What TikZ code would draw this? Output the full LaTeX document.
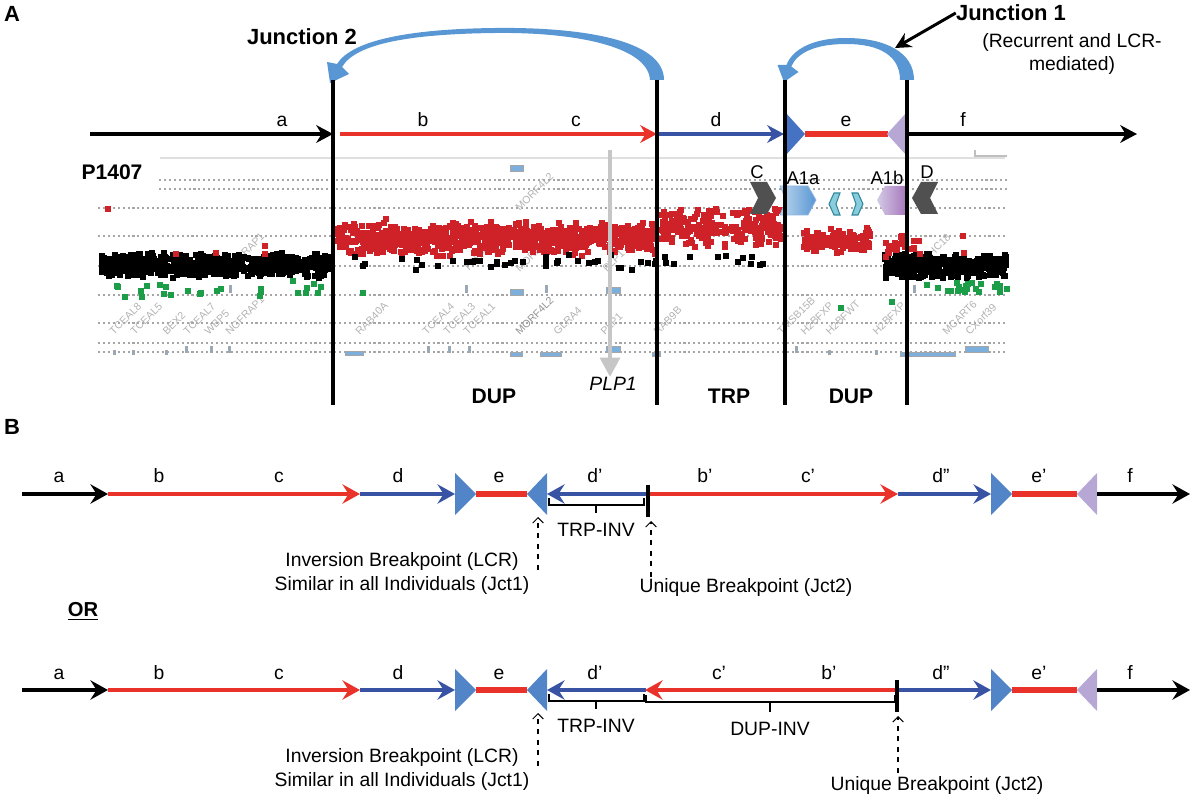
\documentclass[tikz,border=0pt]{standalone}
\usepackage{fontspec}
\setmainfont{Liberation Sans}
\usetikzlibrary{arrows.meta,positioning}

\definecolor{segred}{RGB}{232,50,42}
\definecolor{segblue}{RGB}{57,83,164}
\definecolor{lcrA}{RGB}{70,114,196}
\definecolor{lcrB}{RGB}{82,132,200}
\definecolor{lcrlav}{RGB}{182,167,213}
\definecolor{arcblue}{RGB}{88,150,212}
\definecolor{dotred}{RGB}{206,34,40}
\definecolor{dotgreen}{RGB}{28,158,72}
\definecolor{markblue}{RGB}{125,175,220}
\definecolor{chevgrey}{RGB}{80,80,80}
\definecolor{tealdark}{RGB}{49,134,155}
\definecolor{teallight}{RGB}{135,205,220}

% scattered probes: count, x0, width, y0, height, colour
\newcommand{\probes}[6]{%
  \foreach \i in {1,...,#1}{
    \pgfmathsetmacro\px{#2+#3*rnd}
    \pgfmathsetmacro\py{#4+#5*(rnd+rnd)/2}
    \fill[#6] (\px,\py) rectangle ++(6,6);
  }}

\begin{document}
\begin{tikzpicture}[x=0.02cm,y=-0.02cm,
  lbl/.style={font=\fontsize{11}{13}\selectfont,inner sep=0pt},
  hdr/.style={font=\fontsize{12.5}{14}\selectfont\bfseries,inner sep=0pt},
  gene/.style={font=\fontsize{6}{7}\selectfont,text=gray!60,rotate=45,anchor=south west,inner sep=0pt},
  dotline/.style={gray!70,line width=0.7pt,dash pattern=on 1.2pt off 1.6pt},
  markbar/.style={fill=markblue,draw=gray!70,line width=0.3pt},
  segA/.style={line width=2.2pt},
  tipA/.style={-{Stealth[length=9.5pt,width=10pt,inset=3pt]}},
  segB/.style={line width=1.9pt},
  tipB/.style={-{Stealth[length=10pt,width=11pt,inset=3.5pt]}},
  brk/.style={dashed,line width=0.6pt,-{Straight Barb[length=3pt,width=6pt]}},
  brace/.style={line width=1.2pt}]
\useasboundingbox (0,0) rectangle (1194,800);

%%% panel A
\node[hdr] (pA) at (12,14) {A};
\node[hdr] (jct2) at (302,37) {Junction 2};
\node[hdr] (jct1) at (1011,13) {Junction 1};
\node[lbl,align=center] (jct1note) at (1072,54) {(Recurrent and LCR-\\mediated)};

% junction arcs
\fill[arcblue] (664,80) .. controls (664,38) and (575,27) .. (495,28)
  .. controls (410,29) and (352,40) .. (337,64)
  -- (327,62) -- (330,83) -- (349,74) -- (342,67)
  .. controls (356,43) and (412,34) .. (495,33)
  .. controls (570,32) and (648,45) .. (650,80) -- cycle;
\fill[arcblue] (914,80) .. controls (914,52) and (885,38) .. (846,38)
  .. controls (812,38) and (792,50) .. (786.5,65)
  -- (777.5,65) -- (784,82) -- (798.5,72) -- (791.3,66.5)
  .. controls (797,53) and (815,44) .. (846,44)
  .. controls (880,44) and (900,56) .. (900,80) -- cycle;
\coordinate (jct1tip) at (895,48);
\draw[line width=1.7pt,-{Stealth[length=9pt,width=9pt]}] (jct1.west) -- (jct1tip);

% reference segments
\coordinate (a0) at (90,134);
\coordinate (j2) at (333,134);
\coordinate (b0) at (340,134);
\coordinate (c1) at (657,134);
\coordinate (d1) at (784,134);
\coordinate (e0) at (805,134);
\coordinate (e1) at (888,134);
\coordinate (f0) at (907,134);
\coordinate (f1) at (1137,134);
\draw[segA,tipA] (a0) -- (j2);
\draw[segA,segred,tipA] (b0) -- (c1);
\draw[segA,segblue,tipA] (c1) -- (d1);
\draw[line width=3.6pt,segred] (e0) -- (e1);
\fill[lcrA] (d1) ++(1,-22) -- ++(20,22) -- ++(-20,22) -- cycle;
\fill[lcrlav] (f0) ++(0,-22) -- ++(-20,22) -- ++(20,22) -- cycle;
\draw[segA,tipA] (f0) -- (f1);
\foreach \x/\t in {282/a,423/b,576/c,716/d,846/e,963/f}
  \node[lbl,anchor=base] (lA\t) at (\x,127) {\t};

% array CGH plot
\node[hdr,font=\fontsize{12}{14}\selectfont\bfseries] (pid) at (112,172) {P1407};
\draw[gray!25,line width=0.6pt] (160,158) -- (1005,158);
\draw[gray!50,line width=0.6pt] (975,150) -- (975,156) -- (1007,156);
\foreach \y in {180,189} \draw[dotline] (159,\y) -- (1007,\y);
\foreach \y in {208,236,266,295,323,343,352} \draw[dotline] (98,\y) -- (1007,\y);

\foreach \x/\g in {114/TCEAL8,135/TCEAL5,167/BEX2,188/TCEAL7,209/WBP5,230/NGFRAP1,
  360/RAB40A,427/TCEAL4,448/TCEAL3,468/TCEAL1,558/GLRA4,605/PLP1,658/RAB9B,
  782/TMSB15B,805/H2BFXP,830/H2BFWT,877/H2BFXP,947/MCART6,970/CXorf39}
  \node[gene] (g\x) at (\x,336) {\g};
\node[gene,text=gray!85] (g520) at (520,336) {MORF4L2};
\foreach \x/\g in {230/NGFRAP1,468/TCEAL1,520/MORF4L2,607/PLP1,917/ZCCHC18}
  \node[gene] (u\x) at (\x,273) {\g};
\node[gene] (t520) at (520,212) {MORF4L2};

\fill[markbar] (510,165) rectangle (523,171);
\foreach \x in {229,465,545,913} \fill[markbar] (\x,285) rectangle ++(2.5,7);
\fill[markbar] (510,289) rectangle (523,295);
\fill[markbar] (606,287) rectangle (620,293);
\foreach \x in {113,132,165,828,875} \fill[markbar] (\x,350) rectangle ++(2.5,4);
\foreach \x in {185,210,228,427,448,468,783,795} \fill[markbar] (\x,346) rectangle ++(2.5,6);
\foreach \a/\b/\c/\d in {345/351/363/355,510/352/522/356,540/352/561/356,606/346/620/352,
  652/352/660/356,900/352/955/356,965/346/988/352}
  \fill[markbar] (\a,\b) rectangle (\c,\d);

\pgfmathsetseed{1407}
\probes{650}{98}{231}{249}{27}{black}
\probes{420}{882}{121}{250}{26}{black}
\probes{850}{334}{320}{218}{36}{dotred}
\probes{230}{658}{122}{204}{42}{dotred}
\probes{140}{800}{68}{223}{28}{dotred}
\probes{30}{882}{35}{231}{24}{dotred}
\probes{50}{334}{450}{251}{18}{black}
\probes{26}{98}{232}{277}{20}{dotgreen}
\probes{24}{920}{85}{275}{18}{dotgreen}
\foreach \x/\y in {105/206,173/251,213/250,262/243,262/251,383/216,960/233,961/250}
  \fill[dotred] (\x,\y) rectangle ++(6,6);
\foreach \x/\y in {360/290,838/305,889/299}
  \fill[dotgreen] (\x,\y) rectangle ++(6,6);

% LCR blocks
\fill[chevgrey] (750,182) -- (767,182) -- (776,198) -- (767,214) -- (750,214) -- (758,198) -- cycle;
\shade[left color=markblue!50,right color=arcblue,draw=arcblue!70] (780,186) -- (808,186) -- (816,200) -- (808,215) -- (780,215) -- (786,200) -- cycle;
\filldraw[fill=teallight,draw=tealdark,line width=0.6pt] (840,193) -- (834,193) -- (829,204) -- (834,215) -- (840,215) -- (836,204) -- cycle;
\filldraw[fill=teallight,draw=tealdark,line width=0.6pt] (852,193) -- (858,193) -- (863,204) -- (858,215) -- (852,215) -- (856,204) -- cycle;
\shade[left color=lcrlav!60,right color=lcrlav!70!violet] (877,200) -- (885,186) -- (907,186) -- (907,215) -- (885,215) -- cycle;
\fill[chevgrey] (938,182) -- (921,182) -- (912,198) -- (921,214) -- (938,214) -- (930,198) -- cycle;
\node[lbl,font=\fontsize{10.5}{12}\selectfont] (lC) at (757,172) {C};
\node[lbl,font=\fontsize{10.5}{12}\selectfont] (lA1a) at (803,178) {A1a};
\node[lbl,font=\fontsize{10.5}{12}\selectfont] (lA1b) at (887,178) {A1b};
\node[lbl,font=\fontsize{10.5}{12}\selectfont] (lD) at (927,172) {D};

% breakpoints
\foreach \x in {333,657,785,907} \draw[line width=2.1pt] (\x,80) -- (\x,405);
\node[lbl,font=\fontsize{11}{13}\selectfont\itshape] (plp) at (613,384) {PLP1};
\coordinate (plptop) at (610,150);
\draw[gray!45,line width=2.8pt,-{Triangle[length=11pt,width=11pt]}] (plptop) -- (plp.north -| plptop);
\node[hdr,font=\fontsize{12}{14}\selectfont\bfseries] (dup1) at (494,396) {DUP};
\node[hdr,font=\fontsize{12}{14}\selectfont\bfseries] (trp) at (729,396) {TRP};
\node[hdr,font=\fontsize{12}{14}\selectfont\bfseries] (dup2) at (851,396) {DUP};

%%% panel B
\node[hdr] (pB) at (12,427) {B};
\node[hdr,font=\fontsize{11.5}{13}\selectfont\bfseries] (or) at (83,611) {\underline{OR}};

\foreach \y in {494,690}{
  \draw[segB,tipB] (22,\y) -- (108,\y);
  \draw[segB,segred,tipB] (108,\y) -- (360,\y);
  \draw[segB,segblue,tipB] (360,\y) -- (455,\y);
  \draw[line width=3.4pt,segred] (476,\y) -- (527,\y);
  \fill[lcrB] (455,\y-21) -- (476,\y) -- (455,\y+21) -- cycle;
  \fill[lcrB] (547,\y-21) -- (527,\y) -- (547,\y+21) -- cycle;
  \draw[segB,segblue,tipB] (646,\y) -- (547,\y);
  \draw[segB,segblue,tipB] (898,\y) -- (991,\y);
  \draw[line width=3.4pt,segred] (1012,\y) -- (1077,\y);
  \fill[lcrB] (991,\y-21) -- (1012,\y) -- (991,\y+21) -- cycle;
  \fill[lcrlav] (1097,\y-21) -- (1077,\y) -- (1097,\y+21) -- cycle;
  \draw[segB,tipB] (1097,\y) -- (1190,\y);
  \foreach \x/\t in {59/a,159/b,279/c,398/d,499/e,595/d',941/d”,1039/e',1130/f}
    \node[lbl,anchor=base] at (\x,\y-11) {\t};
  % TRP-INV bracket
  \draw[brace] (549,\y+4) -- (549,\y+11) -- (644,\y+11) -- (644,\y+4);
  \draw[brace] (596,\y+11) -- (596,\y+19);
  \node[lbl] (trpinv\y) at (596,\y+36) {TRP-INV};
  % Jct1 breakpoint
  \coordinate (j1foot\y) at (538,\y+76);
  \coordinate (j1tip\y) at (538,\y+23);
  \draw[brk] (j1foot\y) -- (j1tip\y);
  \node[lbl,align=center,anchor=north] (inv\y) at (402,\y+58)
    {Inversion Breakpoint (LCR)\\[1pt]Similar in all Individuals (Jct1)};
}

% first alternative
\draw[segB,segred,tipB] (650,494) -- (898,494);
\draw[line width=2.2pt] (648,485) -- (648,517);
\node[lbl,anchor=base] (lb1) at (705,483) {b'};
\node[lbl,anchor=base] (lc1) at (808,483) {c'};
\coordinate (j2foot1) at (651,577);
\coordinate (j2tip1) at (651,521);
\draw[brk] (j2foot1) -- (j2tip1);
\node[lbl] (uniq1) at (746,588) {Unique Breakpoint (Jct2)};

% second alternative
\draw[segB,segred,tipB] (896,690) -- (645,690);
\draw[line width=2.2pt] (897,680) -- (897,712);
\node[lbl,anchor=base] (lc2) at (719,679) {c'};
\node[lbl,anchor=base] (lb2) at (829,679) {b'};
\draw[brace] (646,695) -- (646,702) -- (895,702) -- (895,695);
\draw[brace] (770,702) -- (770,712);
\node[lbl] (dupinv) at (770,729) {DUP-INV};
\coordinate (j2foot2) at (898,773);
\coordinate (j2tip2) at (898,716);
\draw[brk] (j2foot2) -- (j2tip2);
\node[lbl] (uniq2) at (937,786) {Unique Breakpoint (Jct2)};
\end{tikzpicture}
\end{document}
